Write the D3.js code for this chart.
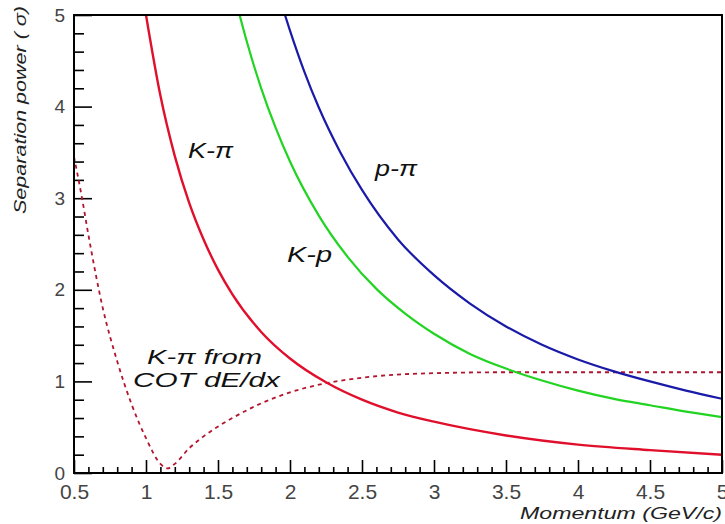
<!DOCTYPE html>
<html><head><meta charset="utf-8">
<script src="https://cdn.jsdelivr.net/npm/d3@7"></script>
<style>body{margin:0;background:#fff}</style></head>
<body>
<svg id="c" width="725" height="524"></svg>
<script>
// K-pi separation (TOF), red solid
const kpiP = [1.0, 1.1, 1.2, 1.3, 1.4, 1.5, 1.6, 1.8, 2.0, 2.25, 2.5, 2.75, 3.0, 3.5, 4.0, 4.5, 5.0];
const kpiS = [5.0, 4.12, 3.46, 2.95, 2.55, 2.22, 1.95, 1.54, 1.25, 0.99, 0.80, 0.66, 0.56, 0.41, 0.31, 0.25, 0.20];
// K-p separation, green
const kpP = [1.65, 1.7, 1.8, 1.9, 2.0, 2.2, 2.4, 2.6, 2.8, 3.0, 3.25, 3.5, 3.75, 4.0, 4.25, 4.5, 4.75, 5.0];
const kpS = [5.0, 4.71, 4.2, 3.77, 3.4, 2.81, 2.36, 2.01, 1.74, 1.52, 1.30, 1.14, 1.01, 0.90, 0.81, 0.74, 0.67, 0.61];
// p-pi separation, blue
const ppiP = [1.965, 2.0, 2.1, 2.2, 2.35, 2.5, 2.75, 3.0, 3.25, 3.5, 3.75, 4.0, 4.25, 4.5, 4.75, 5.0];
const ppiS = [5.0, 4.83, 4.38, 3.99, 3.5, 3.09, 2.55, 2.16, 1.85, 1.60, 1.40, 1.24, 1.11, 1.0, 0.9, 0.81];
// K-pi from COT dE/dx, dashed dark red
const dedxP = [0.5, 0.55, 0.6, 0.7, 0.8, 0.9, 1.0, 1.1, 1.15, 1.2, 1.3, 1.4, 1.6, 1.8, 2.0, 2.25, 2.5, 3.0, 3.5, 4.0, 4.5, 5.0];
const dedxS = [3.45, 3.05, 2.6, 1.8, 1.22, 0.75, 0.38, 0.1, 0.05, 0.1, 0.27, 0.4, 0.6, 0.76, 0.88, 0.98, 1.04, 1.09, 1.1, 1.1, 1.1, 1.1];

const xTicks = [0.5, 1, 1.5, 2, 2.5, 3, 3.5, 4, 4.5, 5];
const xTickLabels = ["0.5", "1", "1.5", "2", "2.5", "3", "3.5", "4", "4.5", "5"];
const yTicks = [0, 1, 2, 3, 4, 5];
const yTickLabels = ["0", "1", "2", "3", "4", "5"];

const svg = d3.select("#c");
const L = 74, R = 722, T = 15, B = 473;
const x = d3.scaleLinear().domain([0.5, 5]).range([L, R]);
const y = d3.scaleLinear().domain([0, 5]).range([B, T]);

svg.append("clipPath").attr("id", "clip").append("rect")
  .attr("x", L).attr("y", T).attr("width", R - L).attr("height", B - T);

// minor ticks
const xMinor = d3.range(5, 51).map(d => d / 10).filter(d => Math.abs(d * 2 - Math.round(d * 2)) > 1e-6);
const yMinor = d3.range(0, 26).map(d => d / 5).filter(d => Math.abs(d - Math.round(d)) > 1e-6);

const gxm = svg.append("g").attr("transform", `translate(0,${B})`)
  .call(d3.axisBottom(x).tickValues(xMinor).tickSize(-6).tickFormat(""));
const gym = svg.append("g").attr("transform", `translate(${L},0)`)
  .call(d3.axisLeft(y).tickValues(yMinor).tickSize(-10).tickFormat(""));

const gx = svg.append("g").attr("transform", `translate(0,${B})`)
  .call(d3.axisBottom(x).tickValues(xTicks).tickSize(-13).tickPadding(11)
    .tickFormat((d, i) => xTickLabels[i]));
const gy = svg.append("g").attr("transform", `translate(${L},0)`)
  .call(d3.axisLeft(y).tickValues(yTicks).tickSize(-18).tickPadding(9)
    .tickFormat((d, i) => yTickLabels[i]));

[gxm, gym, gx, gy].forEach(g => {
  g.select(".domain").remove();
  g.selectAll(".tick line").attr("stroke", "#000").attr("stroke-width", 1.6);
});
gx.selectAll(".tick text").attr("font-family", "Liberation Sans, Arial, sans-serif")
  .attr("font-size", 21).attr("fill", "#444");
gy.selectAll(".tick text").attr("font-family", "Liberation Sans, Arial, sans-serif")
  .attr("font-size", 19).attr("fill", "#444");

// curves
const plot = svg.append("g").attr("clip-path", "url(#clip)");
function curve(P, S, color, width, dash) {
  const line = d3.line().x((d, i) => x(P[i])).y((d, i) => y(S[i])).curve(d3.curveMonotoneX);
  const p = plot.append("path").attr("d", line(P)).attr("fill", "none")
    .attr("stroke", color).attr("stroke-width", width);
  if (dash) p.attr("stroke-dasharray", dash);
}
curve(dedxP, dedxS, "#b3142e", 1.8, "4,4");
curve(kpP, kpS, "#22d422", 2.2);
curve(ppiP, ppiS, "#1a1aa8", 2.2);
curve(kpiP, kpiS, "#e0102c", 2.4);

// frame
svg.append("rect").attr("x", L).attr("y", T).attr("width", R - L).attr("height", B - T)
  .attr("fill", "none").attr("stroke", "#000").attr("stroke-width", 2);

// labels
const lab = (t, xx, yy, len, fs) => svg.append("text").text(t)
  .attr("x", xx).attr("y", yy).attr("font-family", "Liberation Sans, Arial, sans-serif")
  .attr("font-style", "italic").attr("font-size", fs).attr("fill", "#111")
  .attr("textLength", len).attr("lengthAdjust", "spacingAndGlyphs");
lab("K-π", 188, 158, 45, 22);
lab("p-π", 375, 176, 42, 22);
lab("K-p", 287, 262, 45, 22);
lab("K-π from", 147, 364, 115, 21);
lab("COT dE/dx", 133, 387, 147, 21);

svg.append("text").text("Momentum (GeV/c)")
  .attr("x", 722).attr("y", 519).attr("text-anchor", "end")
  .attr("font-family", "Liberation Sans, Arial, sans-serif").attr("font-style", "italic")
  .attr("font-size", 16).attr("fill", "#222")
  .attr("textLength", 202).attr("lengthAdjust", "spacingAndGlyphs");
svg.append("text").text("Separation power ( σ)")
  .attr("transform", "translate(26,214) rotate(-90)")
  .attr("font-family", "Liberation Sans, Arial, sans-serif").attr("font-style", "italic")
  .attr("font-size", 17).attr("fill", "#222")
  .attr("textLength", 208).attr("lengthAdjust", "spacingAndGlyphs");
</script>
</body></html>
